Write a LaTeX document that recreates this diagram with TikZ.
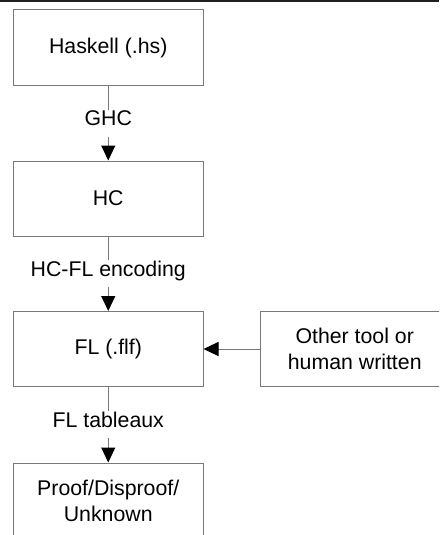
\documentclass[tikz,border=0pt]{standalone}
\usepackage{fontspec}
\setmainfont{Liberation Sans}
\usetikzlibrary{arrows.meta}
\definecolor{boxline}{RGB}{120,120,120}
\definecolor{topline}{RGB}{30,30,30}
\tikzset{
  stage/.style={draw=boxline, line width=1pt, minimum width=189.5pt, minimum height=75pt,
    inner sep=0pt, align=center, font=\fontsize{21.3}{26}\selectfont},
  flowarrow/.style={draw=boxline, line width=1pt, -{Triangle[length=15pt,width=14pt,black]}},
  steplabel/.style={fill=white, inner sep=0pt, minimum height=27pt, text height=0.72em, text depth=0.2em,
    font=\fontsize{21.3}{26}\selectfont}
}
\begin{document}
\begin{tikzpicture}[x=1pt,y=1pt]
\useasboundingbox (0,0) rectangle (439,-535);
\clip (0,0) rectangle (439,-535);
\draw[topline, line width=1.8pt] (0,-0.9) -- (439,-0.9);
\node[stage] (hs) at (108.25,-47.5) {Haskell (.hs)};
\node[stage] (hc) at (108.25,-198.5) {HC};
\node[stage] (fl) at (108.25,-349) {FL (.flf)};
\node[stage] (other) at (354.75,-349) {Other tool or\\human written};
\node[stage] (proof) at (108.25,-500.5) {Proof/Disproof/\\Unknown};
\draw[flowarrow] (hs) -- node[steplabel] (l1) {GHC} (hc);
\draw[flowarrow] (hc) -- node[steplabel] (l2) {HC-FL encoding} (fl);
\draw[flowarrow] (fl) -- node[steplabel] (l3) {FL tableaux} (proof);
\draw[flowarrow] (other) -- (fl);
\end{tikzpicture}
\end{document}
